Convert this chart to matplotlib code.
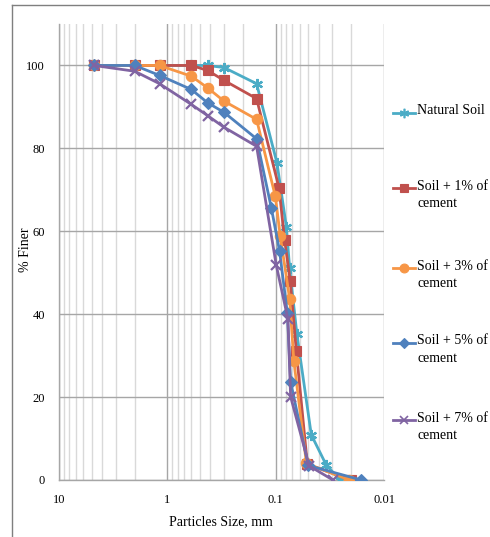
import matplotlib
matplotlib.use("Agg")
import matplotlib.pyplot as plt
from matplotlib.lines import Line2D
from matplotlib.ticker import LogLocator, FixedLocator, FuncFormatter

plt.rcParams['font.family'] = ['Liberation Serif', 'DejaVu Serif']

# ---- data ----
natural_x = [4.75, 2.0, 1.18, 0.6, 0.425, 0.3, 0.15, 0.0973, 0.0796, 0.0743, 0.0637, 0.0469, 0.0341, 0.0254]
natural_y = [100, 100, 100, 100, 100, 99.5, 95.6, 76.5, 61.0, 51.1, 35.2, 10.9, 3.6, 0.0]

c1_x = [4.75, 2.0, 1.18, 0.6, 0.425, 0.3, 0.15, 0.093, 0.0826, 0.0733, 0.0645, 0.051, 0.0203]
c1_y = [100, 100, 100, 100, 98.8, 96.4, 92.0, 70.4, 57.8, 47.9, 31.2, 3.8, 0.0]

c3_x = [4.75, 2.0, 1.18, 0.6, 0.425, 0.3, 0.15, 0.1007, 0.0906, 0.0743, 0.068, 0.052, 0.0209]
c3_y = [100, 100, 100, 97.4, 94.6, 91.4, 87.0, 68.4, 58.8, 43.7, 28.8, 4.0, 0.0]

c5_x = [4.75, 2.0, 1.18, 0.6, 0.425, 0.3, 0.15, 0.1096, 0.092, 0.078, 0.0728, 0.05, 0.0162]
c5_y = [100, 100, 97.6, 94.2, 91.0, 88.7, 82.3, 65.6, 55.2, 40.2, 23.7, 3.5, 0.0]

c7_x = [4.75, 2.0, 1.18, 0.6, 0.425, 0.3, 0.15, 0.0987, 0.077, 0.0728, 0.049, 0.0296]
c7_y = [100, 98.6, 95.6, 90.6, 87.9, 85.1, 80.5, 51.8, 38.8, 20.1, 3.4, 0.0]

labels = ["Natural Soil", "Soil + 1% of\ncement", "Soil + 3% of\ncement",
          "Soil + 5% of\ncement", "Soil + 7% of\ncement"]
x_ticks = [10, 1, 0.1, 0.01]
x_tick_labels = ["10", "1", "0.1", "0.01"]
y_ticks = [0, 20, 40, 60, 80, 100]

colors = ["#4BACC6", "#C0504D", "#F79646", "#4F81BD", "#8064A2"]
markers = [(6, 2, 0), 's', 'o', 'D', 'x']
msizes = [8, 7.5, 7.5, 6.5, 7]
series = [(natural_x, natural_y), (c1_x, c1_y), (c3_x, c3_y), (c5_x, c5_y), (c7_x, c7_y)]

W, H = 490, 537
fig = plt.figure(figsize=(W / 100, H / 100), dpi=100)
ax = fig.add_axes([59 / W, 1 - 480 / H, (384 - 59) / W, (480 - 24) / H])

for (xs, ys), col, mk, ms in zip(series, colors, markers, msizes):
    ax.plot(xs, ys, color=col, lw=2.0, marker=mk, markersize=ms,
            markeredgewidth=1.6 if mk in ('x', (6, 2, 0)) else 0.8,
            markeredgecolor=col, markerfacecolor=col, zorder=3)

ax.set_xscale('log')
ax.set_xlim(10, 0.01)
ax.set_ylim(0, 110)
ax.xaxis.set_major_locator(FixedLocator(x_ticks))
ax.xaxis.set_major_formatter(FuncFormatter(lambda v, p: x_tick_labels[x_ticks.index(v)] if v in x_ticks else ""))
ax.xaxis.set_minor_locator(LogLocator(base=10, subs=range(2, 10)))
ax.xaxis.set_minor_formatter(FuncFormatter(lambda v, p: ""))
ax.set_yticks(y_ticks)

ax.grid(which='major', axis='both', color='#A6A6A6', lw=1.0, zorder=0)
ax.grid(which='minor', axis='x', color='#D9D9D9', lw=1.0, zorder=0)
ax.set_axisbelow(True)
for s in ['top', 'right']:
    ax.spines[s].set_visible(False)
for s in ['left', 'bottom']:
    ax.spines[s].set_color('#A6A6A6')
    ax.spines[s].set_linewidth(1.0)
ax.tick_params(which='both', length=0, labelsize=9, colors='black')
ax.tick_params(axis='y', pad=10)
ax.tick_params(axis='x', pad=10)

ax.set_xlabel("Particles Size, mm", fontsize=10)
ax.set_ylabel("% Finer", fontsize=10)
ax.xaxis.set_label_coords(0.498, -0.092)
ax.yaxis.set_label_coords(-0.103, 0.504)
ax.xaxis.label.set_va('center')
ax.yaxis.label.set_va('center')

# manual legend (figure pixel coords)
leg_y = [113, 188, 268, 343, 420]
for lab, col, mk, ms, ly in zip(labels, colors, markers, msizes, leg_y):
    yf = 1 - ly / H
    fig.add_artist(Line2D([393 / W, 415 / W], [yf, yf], color=col, lw=2.0,
                          transform=fig.transFigure))
    fig.add_artist(Line2D([404 / W], [yf], color=col, marker=mk, markersize=ms * 0.85,
                          markeredgewidth=1.2 if mk in ('x', (6, 2, 0)) else 0.8,
                          markeredgecolor=col, markerfacecolor=col,
                          transform=fig.transFigure))
    fig.text(417 / W, 1 - (ly - 8.5) / H, lab, fontsize=10, va='top', ha='left',
             linespacing=1.45, transform=fig.transFigure)

# outer chart border (left + top visible)
fig.add_artist(Line2D([12 / W, 12 / W], [0, 1 - 5 / H], color='#7F7F7F', lw=1.0,
                      transform=fig.transFigure))
fig.add_artist(Line2D([12 / W, 1], [1 - 5 / H, 1 - 5 / H], color='#7F7F7F', lw=1.0,
                      transform=fig.transFigure))

fig.savefig("out.png", dpi=100)
